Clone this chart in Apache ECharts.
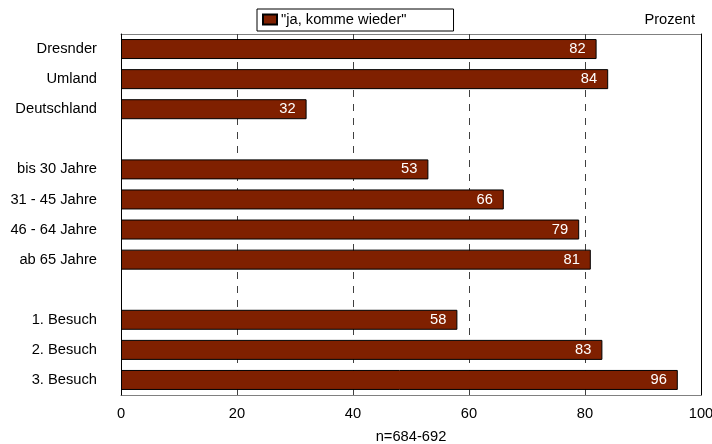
<!DOCTYPE html>
<html>
<head>
<meta charset="utf-8">
<script src="https://cdn.jsdelivr.net/npm/echarts@6/dist/echarts.min.js"></script>
<style>
  html, body { margin: 0; padding: 0; background: #fff; }
  #chart { width: 712px; height: 444px; }
</style>
</head>
<body>
<div id="chart"></div>
<script>
// Kategorien (leere Einträge = Abstand zwischen Gruppen)
var categories = ['Dresnder', 'Umland', 'Deutschland', '',
  'bis 30 Jahre', '31 - 45 Jahre', '46 - 64 Jahre', 'ab 65 Jahre', '',
  '1. Besuch', '2. Besuch', '3. Besuch'];
var values = [82, 84, 32, null, 53, 66, 79, 81, null, 58, 83, 96];
var xTicks = [0, 20, 40, 60, 80, 100];

var chartDom = document.getElementById('chart');
var myChart = echarts.init(chartDom);

var font = 'Liberation Sans, Arial, sans-serif';
var fs = 14.7;

var option = {
  animation: false,
  textStyle: { fontFamily: font },
  title: {
    text: 'Prozent',
    right: 17,
    top: 12,
    padding: 0,
    textStyle: { fontSize: fs, fontWeight: 'normal', color: '#000', fontFamily: font }
  },
  legend: {
    data: ['"ja, komme wieder"'],
    icon: 'rect',
    left: 257,
    top: 9,
    padding: [3, 47, 4, 5],
    borderColor: '#000',
    borderWidth: 1,
    itemWidth: 14,
    itemHeight: 10,
    itemGap: 4,
    textStyle: { fontSize: fs, color: '#000', fontFamily: font, padding: [0, 0, 0, -1] }
  },
  grid: { left: 121, right: 11, top: 34, bottom: 49, outerBoundsMode: 'none' },
  xAxis: [
    {
      type: 'value',
      min: 0,
      max: 100,
      interval: 20,
      position: 'bottom',
      name: 'n=684-692',
      nameLocation: 'middle',
      nameGap: 34,
      nameTextStyle: { fontSize: fs, color: '#000' },
      axisLine: { show: true, lineStyle: { color: '#808080' } },
      axisTick: { show: true, inside: true, length: 5, lineStyle: { color: '#404040' } },
      axisLabel: { fontSize: fs, color: '#000', margin: 11 },
      splitLine: { show: true, lineStyle: { color: '#404040', type: [7, 7], width: 1 } }
    },
    {
      type: 'value',
      min: 0,
      max: 100,
      interval: 20,
      position: 'top',
      axisLine: { show: true, lineStyle: { color: '#808080' } },
      axisTick: { show: true, inside: true, length: 5, lineStyle: { color: '#404040' } },
      axisLabel: { show: false },
      splitLine: { show: false }
    }
  ],
  yAxis: [
    {
      type: 'category',
      data: categories,
      inverse: true,
      axisLine: { show: true, onZero: false, lineStyle: { color: '#000' } },
      axisTick: { show: false },
      axisLabel: { fontSize: fs, color: '#000', margin: 24 },
      z: 5
    },
    {
      type: 'category',
      data: categories,
      inverse: true,
      position: 'right',
      axisLine: { show: true, onZero: false, lineStyle: { color: '#000' } },
      axisTick: { show: false },
      axisLabel: { show: false },
      z: 5
    }
  ],
  series: [
    {
      name: '"ja, komme wieder"',
      type: 'bar',
      data: values,
      barWidth: 20,
      itemStyle: { color: '#7f2000', borderColor: '#000', borderWidth: 1 },
      label: {
        show: true,
        position: 'insideRight',
        distance: 11,
        color: '#fff',
        fontSize: fs,
        fontFamily: font
      }
    }
  ]
};
myChart.setOption(option);
</script>
</body>
</html>
